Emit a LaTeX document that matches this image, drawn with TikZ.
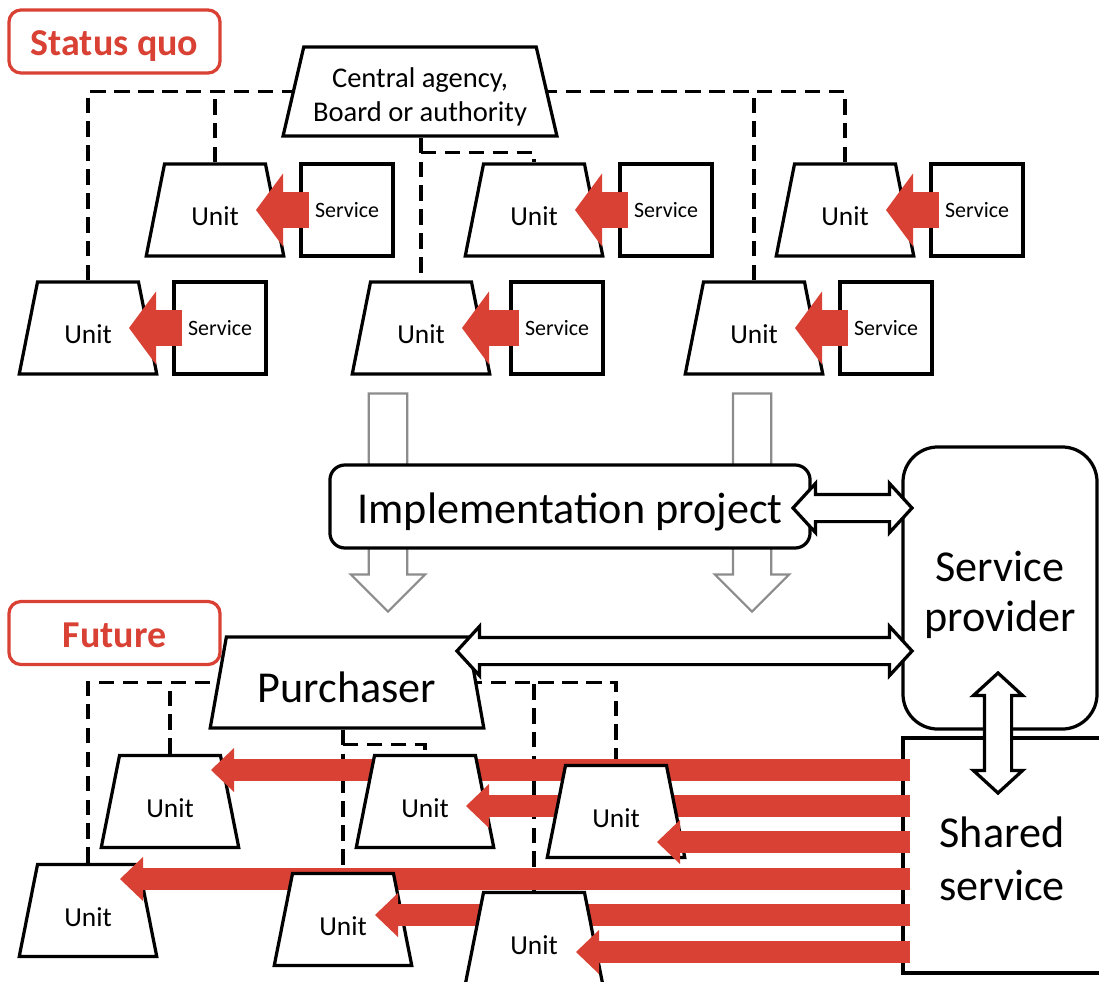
\documentclass[tikz,border=0pt]{standalone}
\usepackage{fontspec}
\setmainfont{Carlito}
\usetikzlibrary{arrows.meta, shapes, backgrounds, calc, positioning}
\definecolor{flowred}{RGB}{216,65,52}
\definecolor{arrowgrey}{RGB}{140,140,140}
\tikzset{
	box/.style = {draw, fill = white, line width = 2.3pt},
	unit/.style = {box, trapezium, trapezium angle = 76, trapezium stretches = true, minimum width = 3.45cm, minimum height = 2.3cm, text height = 22.5pt, font = \fontsize{19.5}{23}\selectfont},
	service/.style = {box, rectangle, minimum width = 2.3cm, minimum height = 2.3cm, font = \fontsize{15.6}{19}\selectfont},
	big/.style = {box, align = center, font = \fontsize{31.4}{36}\selectfont},
	tag/.style = {draw = flowred, line width = 2.3pt, rounded corners = 0.3cm, minimum width = 5.275cm, minimum height = 1.575cm, text height = 25pt, text depth = 5pt, text = flowred, font = \bfseries\fontsize{27}{32}\selectfont},
	link/.style = {line width = 2.3pt, dash pattern = on 11pt off 6pt},
	flow/.style = {draw = flowred, line width = 0.9cm, -{Triangle[length = 0.675cm, width = 1.825cm, line width = 0pt]}},
	bigflow/.style = {draw = flowred, line width = 0.55cm, -{Triangle[length = 0.575cm, width = 1.1cm, line width = 0pt]}},
	hollow/.style = {double arrow, draw, fill = white, line width = 2.3pt, inner sep = 0pt, inner ysep = 0.3cm, double arrow head extend = 0.275cm, double arrow tip angle = 95},
	carry/.style = {single arrow, draw = arrowgrey, fill = white, line width = 1.6pt, inner sep = 0pt, inner ysep = 0.45cm, single arrow head extend = 0.45cm, rotate = -90, minimum height = 5.45cm}
}

\begin{document}
\begin{tikzpicture}[x = 0.025cm, y = -0.025cm]
	\useasboundingbox (0, 0) rectangle (1099, 981);
	\clip (0, 0) rectangle (1099, 981);

	% status quo
	\node [tag] (now) at (114.5, 41.5) {Status quo};
	\node [unit, minimum width = 6.85cm, minimum height = 2.225cm, text height = 46pt, text depth = 4pt, align = center, font = \fontsize{20.3}{24}\selectfont] (ca) at (420, 91.5) {Central agency,\\Board or authority};

	\node [unit] (u1) at (215, 210) {Unit};
	\node [unit] (u2) at (534, 210) {Unit};
	\node [unit] (u3) at (845, 210) {Unit};
	\node [unit] (u4) at (88, 328) {Unit};
	\node [unit] (u5) at (421, 328) {Unit};
	\node [unit] (u6) at (754, 328) {Unit};
	\node [service] (s1) at (347, 210) {Service};
	\node [service] (s2) at (666, 210) {Service};
	\node [service] (s3) at (977, 210) {Service};
	\node [service] (s4) at (220, 328) {Service};
	\node [service] (s5) at (557, 328) {Service};
	\node [service] (s6) at (886, 328) {Service};
	\foreach \un/\svc in {u1/s1, u2/s2, u3/s3, u4/s4, u5/s5, u6/s6}
		\draw [flow] ($(\svc.west) + (10, 0)$) -- ($(\un.center) + (41, 0)$);

	% transition
	\node [carry] (g1) at (388, 493) {};
	\node [carry] (g2) at (752, 493) {};
	\node [big, rectangle, rounded corners = 0.375cm, minimum width = 12cm, minimum height = 2.075cm, text height = 29.5pt, text depth = 6pt] (ip) at (570, 506.5) {Implementation project};
	\node [big, rectangle, rounded corners = 0.875cm, minimum width = 4.85cm, minimum height = 7.05cm, text height = 68.5pt, text depth = 6pt] (sp) at (1000, 588) {Service\\provider};
	\node [big, rectangle, minimum width = 4.95cm, minimum height = 5.875cm, text height = 63.5pt, text depth = 0pt, font = \fontsize{31.4}{37.7}\selectfont] (ss) at (1002, 855.5) {Shared\\service};

	% future
	\node [tag] (later) at (114.5, 633) {Future};
	\node [unit, minimum width = 6.85cm, minimum height = 2.275cm, text height = 29pt, font = \fontsize{31.4}{37}\selectfont] (pu) at (347, 682.5) {Purchaser};

	\node [hollow, minimum height = 2.975cm] (ipsp) at (852.5, 508) {};
	\node [hollow, minimum height = 11.375cm] (pusp) at (684.5, 651) {};
	\node [hollow, minimum height = 3cm, rotate = 90] (spss) at (998, 733) {};

	\foreach \n/\x/\y/\dx/\r in {l1/170/801.5/41/770, l2/425/801.5/41/806, l3/616/811.5/41/842, l4/88/910.5/32/879, l5/343/919.5/32/915, l6/534/938.5/42/952} {
		\node [unit] (\n) at (\x, \y) {Unit};
		\draw [bigflow] ($(ss.west |- 0, \r) + (9, 0)$) -- ($(\n.center |- 0, \r) + (\dx, 0)$);
	}

	\begin{scope}[on background layer]
		\draw [link] (u4.north) |- (ca.west);
		\draw [link] (u1.north) -- (u1.north |- ca.west);
		\draw [link] (u3.north) |- (ca.east);
		\draw [link] (u6.north) -- (u6.north |- ca.east);
		\draw [link] (u5.north |- ca.south) -- (u5.north);
		\draw [link] ($(u5.north |- ca.south) + (0, 15)$) -| (u2.north);

		\draw [link] (l4.north) |- (pu.west);
		\draw [link] (l1.north) -- (l1.north |- pu.west);
		\draw [link] (l3.north) |- (pu.east);
		\draw [link] (l6.north) -- (l6.north |- pu.east);
		\draw [link] (l5.north |- pu.south) -- (l5.north);
		\draw [link] ($(l5.north |- pu.south) + (0, 15)$) -| (l2.north);
	\end{scope}
\end{tikzpicture}
\end{document}
